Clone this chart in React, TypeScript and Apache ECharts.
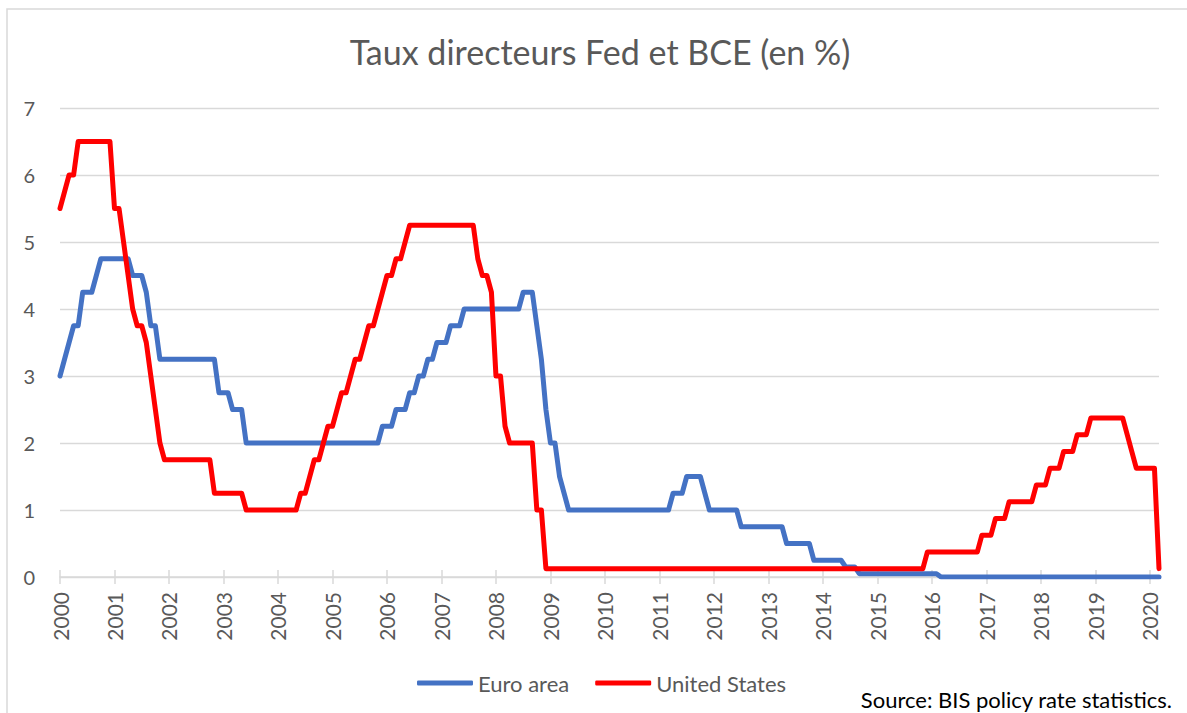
import React, { useEffect, useRef } from "react";
import * as echarts from "echarts";

// Tick labels (years on the axis)
const years: string[] = [
  "2000", "2001", "2002", "2003", "2004", "2005", "2006", "2007", "2008", "2009",
  "2010", "2011", "2012", "2013", "2014", "2015", "2016", "2017", "2018", "2019", "2020",
];
const monthsIn2020 = 3;

// Euro area policy rate, end of month (%)
const euro2000 = [3.0, 3.25, 3.5, 3.75, 3.75, 4.25, 4.25, 4.25, 4.5, 4.75, 4.75, 4.75];
const euro2001 = [4.75, 4.75, 4.75, 4.75, 4.5, 4.5, 4.5, 4.25, 3.75, 3.75, 3.25, 3.25];
const euro2002 = [3.25, 3.25, 3.25, 3.25, 3.25, 3.25, 3.25, 3.25, 3.25, 3.25, 3.25, 2.75];
const euro2003 = [2.75, 2.75, 2.5, 2.5, 2.5, 2.0, 2.0, 2.0, 2.0, 2.0, 2.0, 2.0];
const euro2004 = [2.0, 2.0, 2.0, 2.0, 2.0, 2.0, 2.0, 2.0, 2.0, 2.0, 2.0, 2.0];
const euro2005 = [2.0, 2.0, 2.0, 2.0, 2.0, 2.0, 2.0, 2.0, 2.0, 2.0, 2.0, 2.25];
const euro2006 = [2.25, 2.25, 2.5, 2.5, 2.5, 2.75, 2.75, 3.0, 3.0, 3.25, 3.25, 3.5];
const euro2007 = [3.5, 3.5, 3.75, 3.75, 3.75, 4.0, 4.0, 4.0, 4.0, 4.0, 4.0, 4.0];
const euro2008 = [4.0, 4.0, 4.0, 4.0, 4.0, 4.0, 4.25, 4.25, 4.25, 3.75, 3.25, 2.5];
const euro2009 = [2.0, 2.0, 1.5, 1.25, 1.0, 1.0, 1.0, 1.0, 1.0, 1.0, 1.0, 1.0];
const euro2010 = [1.0, 1.0, 1.0, 1.0, 1.0, 1.0, 1.0, 1.0, 1.0, 1.0, 1.0, 1.0];
const euro2011 = [1.0, 1.0, 1.0, 1.25, 1.25, 1.25, 1.5, 1.5, 1.5, 1.5, 1.25, 1.0];
const euro2012 = [1.0, 1.0, 1.0, 1.0, 1.0, 1.0, 0.75, 0.75, 0.75, 0.75, 0.75, 0.75];
const euro2013 = [0.75, 0.75, 0.75, 0.75, 0.5, 0.5, 0.5, 0.5, 0.5, 0.5, 0.25, 0.25];
const euro2014 = [0.25, 0.25, 0.25, 0.25, 0.25, 0.15, 0.15, 0.15, 0.05, 0.05, 0.05, 0.05];
const euro2015 = [0.05, 0.05, 0.05, 0.05, 0.05, 0.05, 0.05, 0.05, 0.05, 0.05, 0.05, 0.05];
const euro2016 = [0.05, 0.05, 0, 0, 0, 0, 0, 0, 0, 0, 0, 0];
const euro2017 = [0, 0, 0, 0, 0, 0, 0, 0, 0, 0, 0, 0];
const euro2018 = [0, 0, 0, 0, 0, 0, 0, 0, 0, 0, 0, 0];
const euro2019 = [0, 0, 0, 0, 0, 0, 0, 0, 0, 0, 0, 0];
const euro2020 = [0, 0, 0];

// United States policy rate, end of month (%)
const us2000 = [5.5, 5.75, 6.0, 6.0, 6.5, 6.5, 6.5, 6.5, 6.5, 6.5, 6.5, 6.5];
const us2001 = [5.5, 5.5, 5.0, 4.5, 4.0, 3.75, 3.75, 3.5, 3.0, 2.5, 2.0, 1.75];
const us2002 = [1.75, 1.75, 1.75, 1.75, 1.75, 1.75, 1.75, 1.75, 1.75, 1.75, 1.25, 1.25];
const us2003 = [1.25, 1.25, 1.25, 1.25, 1.25, 1.0, 1.0, 1.0, 1.0, 1.0, 1.0, 1.0];
const us2004 = [1.0, 1.0, 1.0, 1.0, 1.0, 1.25, 1.25, 1.5, 1.75, 1.75, 2.0, 2.25];
const us2005 = [2.25, 2.5, 2.75, 2.75, 3.0, 3.25, 3.25, 3.5, 3.75, 3.75, 4.0, 4.25];
const us2006 = [4.5, 4.5, 4.75, 4.75, 5.0, 5.25, 5.25, 5.25, 5.25, 5.25, 5.25, 5.25];
const us2007 = [5.25, 5.25, 5.25, 5.25, 5.25, 5.25, 5.25, 5.25, 4.75, 4.5, 4.5, 4.25];
const us2008 = [3.0, 3.0, 2.25, 2.0, 2.0, 2.0, 2.0, 2.0, 2.0, 1.0, 1.0, 0.125];
const us2009 = [0.125, 0.125, 0.125, 0.125, 0.125, 0.125, 0.125, 0.125, 0.125, 0.125, 0.125, 0.125];
const us2010 = [0.125, 0.125, 0.125, 0.125, 0.125, 0.125, 0.125, 0.125, 0.125, 0.125, 0.125, 0.125];
const us2011 = [0.125, 0.125, 0.125, 0.125, 0.125, 0.125, 0.125, 0.125, 0.125, 0.125, 0.125, 0.125];
const us2012 = [0.125, 0.125, 0.125, 0.125, 0.125, 0.125, 0.125, 0.125, 0.125, 0.125, 0.125, 0.125];
const us2013 = [0.125, 0.125, 0.125, 0.125, 0.125, 0.125, 0.125, 0.125, 0.125, 0.125, 0.125, 0.125];
const us2014 = [0.125, 0.125, 0.125, 0.125, 0.125, 0.125, 0.125, 0.125, 0.125, 0.125, 0.125, 0.125];
const us2015 = [0.125, 0.125, 0.125, 0.125, 0.125, 0.125, 0.125, 0.125, 0.125, 0.125, 0.125, 0.375];
const us2016 = [0.375, 0.375, 0.375, 0.375, 0.375, 0.375, 0.375, 0.375, 0.375, 0.375, 0.375, 0.625];
const us2017 = [0.625, 0.625, 0.875, 0.875, 0.875, 1.125, 1.125, 1.125, 1.125, 1.125, 1.125, 1.375];
const us2018 = [1.375, 1.375, 1.625, 1.625, 1.625, 1.875, 1.875, 1.875, 2.125, 2.125, 2.125, 2.375];
const us2019 = [2.375, 2.375, 2.375, 2.375, 2.375, 2.375, 2.375, 2.125, 1.875, 1.625, 1.625, 1.625];
const us2020 = [1.625, 1.625, 0.125];

const euroArea = [
  euro2000, euro2001, euro2002, euro2003, euro2004, euro2005, euro2006, euro2007,
  euro2008, euro2009, euro2010, euro2011, euro2012, euro2013, euro2014, euro2015,
  euro2016, euro2017, euro2018, euro2019, euro2020,
].flat();
const unitedStates = [
  us2000, us2001, us2002, us2003, us2004, us2005, us2006, us2007, us2008, us2009,
  us2010, us2011, us2012, us2013, us2014, us2015, us2016, us2017, us2018, us2019, us2020,
].flat();

const categories: string[] = [];
years.forEach((y, i) => {
  const n = i === years.length - 1 ? monthsIn2020 : 12;
  for (let m = 1; m <= n; m++) categories.push(`${y}-${String(m).padStart(2, "0")}`);
});

const FONT = "Lato, 'Noto Sans', sans-serif";
const GREY = "#595959";
const GRID = "#d9d9d9";

export default function App() {
  const ref = useRef<HTMLDivElement>(null);
  useEffect(() => {
    if (!ref.current) return;
    const chart = echarts.init(ref.current, undefined, { renderer: "svg" });
    const isJan = (idx: number) => idx % 12 === 0;
    chart.setOption({
      animation: false,
      backgroundColor: "#ffffff",
      textStyle: { fontFamily: FONT },
      grid: { left: 60, right: 28, top: 108, bottom: 136, containLabel: false },
      legend: {
        left: 412,
        top: 667,
        icon: "roundRect",
        itemWidth: 56,
        itemHeight: 5,
        itemGap: 26,
        textStyle: { color: GREY, fontSize: 22, fontFamily: FONT },
        data: ["Euro area", "United States"],
      },
      xAxis: [
        {
          type: "category",
          data: categories,
          boundaryGap: false,
          axisLine: { show: true, lineStyle: { color: GRID, width: 1.5 } },
          axisTick: { show: true, interval: (i: number) => isJan(i), length: 7, lineStyle: { color: GRID, width: 1.5 } },
          axisLabel: {
            interval: (i: number) => isJan(i),
            rotate: 90,
            margin: 15,
            color: GREY,
            fontSize: 21,
            fontFamily: FONT,
            formatter: (v: string) => v.slice(0, 4),
          },
          splitLine: { show: false },
        },
        {
          type: "category",
          data: categories,
          boundaryGap: false,
          position: "bottom",
          axisLine: { show: false },
          axisTick: { show: true, inside: true, interval: (i: number) => isJan(i), length: 7, lineStyle: { color: GRID, width: 1.5 } },
          axisLabel: { show: false },
          splitLine: { show: false },
        },
      ],
      yAxis: {
        type: "value",
        min: 0,
        max: 7,
        interval: 1,
        axisLine: { show: false },
        axisTick: { show: false },
        axisLabel: { color: GREY, fontSize: 20, margin: 25, fontFamily: FONT },
        splitLine: { lineStyle: { color: GRID, width: 1.3 } },
      },
      series: [
        {
          name: "Euro area",
          type: "line",
          data: euroArea,
          showSymbol: false,
          symbol: "none",
          itemStyle: { color: "#4472C4" },
          lineStyle: { color: "#4472C4", width: 5, cap: "round", join: "round" },
        },
        {
          name: "United States",
          type: "line",
          data: unitedStates,
          showSymbol: false,
          symbol: "none",
          itemStyle: { color: "#FF0000" },
          lineStyle: { color: "#FF0000", width: 5, cap: "round", join: "round" },
        },
      ],
      graphic: [
        {
          type: "rect",
          z: -10,
          silent: true,
          shape: { x: 7, y: 9, width: 1200, height: 720 },
          style: { fill: "none", stroke: GRID, lineWidth: 1.5 },
        },
        {
          type: "text",
          x: 600,
          y: 51,
          style: {
            text: "Taux directeurs Fed et BCE (en %)",
            fill: GREY,
            font: `34px ${FONT}`,
            align: "center",
            verticalAlign: "middle",
          },
        },
        {
          type: "text",
          x: 1172,
          y: 699,
          style: {
            text: "Source: BIS policy rate statistics.",
            fill: "#000000",
            font: `22px ${FONT}`,
            align: "right",
            verticalAlign: "middle",
          },
        },
      ],
    });
    return () => chart.dispose();
  }, []);
  return (
    <div
      ref={ref}
      style={{ position: "absolute", left: 0, top: 0, width: 1187, height: 713 }}
    />
  );
}
